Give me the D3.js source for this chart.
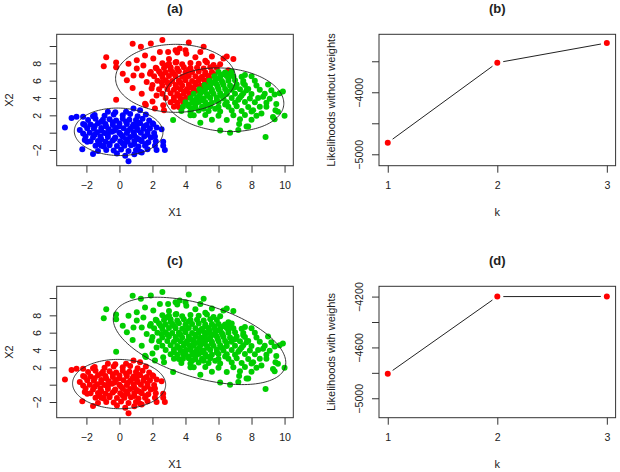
<!DOCTYPE html>
<html>
<head>
<meta charset="utf-8">
<script src="https://cdn.jsdelivr.net/npm/d3@7"></script>
<style>
  body { margin: 0; background: #fff; }
  svg text { font-family: "Liberation Sans", Arial, sans-serif; font-size: 11px; fill: #222; }
  svg .tick text { font-size: 10.6px; }
</style>
</head>
<body>
<div id="chart"></div>
<script>
// small cluster around the origin (blue in (a), red in (c))
const groupA = [
  [-3.3,0.6],[-2.9,1.7],[-2.6,1.85],[-2.2,1.85],[-2.4,0.3],[-2.1,0.9],[-1.95,-1.05],[-2.25,-1.9],[-1.6,-2.45],[-1.1,-1.5],
  [-0.7,2.4],[-0.25,2.35],[0.85,2.8],[1.25,2.6],[0.4,2.4],[2.0,1.1],[2.55,0.4],[2.15,-0.45],[2.65,-1.05],[2.65,-1.5],
  [2.15,-1.5],[2.75,-2.0],[2.25,-2.0],[1.25,-2.2],[1.35,-2.3],[0.35,-2.65],[0.55,-3.3],[-0.15,-2.4],[-2.2,-0.1],[-2.1,-0.85],
  [-1.6,1.9],[1.6,2.1],[-1.3,-2.1],[0.9,-2.5],
  [-1.5,2.05],[-0.9,1.95],[-0.35,2.1],[0.2,2.0],[0.65,2.15],[1.1,1.9],
  [-1.9,1.45],[-1.45,1.6],[-1.0,1.5],[-0.6,1.55],[-0.2,1.4],[0.2,1.6],[0.6,1.5],[1.0,1.45],[1.4,1.6],[1.8,1.4],
  [-2.2,1.0],[-1.75,0.95],[-1.3,1.1],[-0.85,1.0],[-0.4,0.9],[0.0,1.05],[0.45,1.0],[0.85,0.95],[1.25,1.1],[1.65,0.9],[2.05,1.0],
  [-1.95,0.5],[-1.55,0.45],[-1.1,0.55],[-0.65,0.4],[-0.2,0.55],[0.25,0.5],[0.65,0.45],[1.05,0.6],[1.45,0.45],[1.85,0.5],[2.25,0.6],
  [-1.8,0.0],[-1.35,0.05],[-0.9,-0.05],[-0.45,0.1],[0.0,0.0],[0.45,-0.05],[0.85,0.05],[1.3,0.0],[1.7,0.1],[2.1,-0.05],
  [-2.05,-0.45],[-1.6,-0.55],[-1.15,-0.45],[-0.7,-0.5],[-0.25,-0.55],[0.2,-0.45],[0.65,-0.5],[1.05,-0.6],[1.5,-0.45],[1.9,-0.55],
  [-1.75,-1.0],[-1.3,-0.95],[-0.85,-1.05],[-0.4,-0.9],[0.05,-1.0],[0.5,-1.05],[0.9,-0.95],[1.35,-1.0],[1.75,-1.1],[2.2,-1.0],
  [-1.45,-1.5],[-0.95,-1.6],[-0.6,-1.45],[-0.15,-1.55],[0.3,-1.5],[0.7,-1.45],[1.15,-1.6],[1.55,-1.5],
  [-0.8,-2.0],[-0.35,-2.05],[0.1,-1.95],[0.55,-2.1],[1.0,-2.0],[1.7,-1.9],
  [-1.1,1.25],[-0.4,1.2],[0.4,1.25],[1.1,1.2],[-1.5,0.75],[-0.8,0.7],[0.0,0.75],[0.8,0.7],[1.5,0.75],
  [-1.1,0.25],[-0.3,0.25],[0.5,0.2],[1.1,0.3],[-1.5,-0.25],[-0.7,-0.2],[0.1,-0.25],[0.9,-0.3],[1.7,-0.2],
  [-1.1,-0.75],[-0.3,-0.7],[0.4,-0.75],[1.2,-0.8],[-0.6,-1.25],[0.2,-1.25],[0.9,-1.3],[-1.2,-1.3],[1.6,-1.3]
];

// upper-left part of the large cluster (red in (a))
const groupB = [
  [-0.8,8.7],[-0.95,7.65],[-0.2,8.1],[-0.2,7.55],[0.8,10.25],[1.3,9.9],[1.9,10.3],[2.6,10.7],[3.4,9.5],[3.5,9.25],
  [4.0,9.5],[4.2,10.4],[5.1,9.9],[5.6,8.8],[6.5,8.8],[6.9,8.5],[6.6,7.2],[-0.2,3.8],[2.15,2.8],[1.6,3.2],
  [2.65,3.15],[1.55,3.35],[0.2,6.8],[0.45,6.05],[0.8,5.15],[0.85,6.6],[1.55,8.9],[2.05,8.55],[2.45,9.3],[2.95,9.3],
  [3.65,9.7],[4.05,9.1],[1.45,7.75],[1.05,8.35],[0.55,7.95],[1.85,6.8],[1.35,6.6],[1.65,5.85],[1.95,5.1],[2.25,4.3],
  [1.35,4.5],[2.55,5.85],[1.05,7.4],[2.25,7.4],[2.85,7.75],[3.45,8.15],[6.3,8.55],[5.7,7.8],[4.6,8.7],[5.2,8.3],
  [6.1,7.9],[3.0,8.5],[4.9,9.3],[2.0,3.6],[2.7,2.6],
  [2.6,8.0],[3.0,7.95],[3.4,8.1],[3.8,7.9],[4.3,8.05],[4.8,7.95],[5.3,8.1],
  [2.2,7.5],[2.7,7.45],[3.1,7.55],[3.5,7.4],[3.9,7.55],[4.3,7.45],[4.7,7.5],[5.1,7.4],[5.5,7.55],[5.9,7.45],
  [1.9,7.0],[2.4,7.05],[2.8,6.95],[3.2,7.0],[3.6,7.1],[4.0,6.95],[4.4,7.0],[4.8,7.05],[5.2,6.95],[5.6,7.0],
  [2.1,6.5],[2.6,6.45],[3.0,6.55],[3.4,6.5],[3.8,6.45],[4.2,6.55],[4.6,6.5],[5.0,6.45],[5.4,6.55],
  [2.3,6.0],[2.8,6.05],[3.2,5.95],[3.6,6.0],[4.0,6.05],[4.4,5.95],[4.8,6.0],[5.15,6.05],
  [2.0,5.5],[2.6,5.45],[3.0,5.55],[3.4,5.5],[3.8,5.45],[4.2,5.55],[4.6,5.5],[4.9,5.4],
  [2.4,5.0],[2.9,5.05],[3.3,4.95],[3.7,5.0],[4.1,5.05],[4.5,4.95],
  [2.6,4.5],[3.1,4.55],[3.5,4.45],[3.9,4.5],[4.25,4.55],
  [2.8,4.0],[3.3,4.05],[3.7,3.95],[4.05,4.0],
  [3.1,3.5],[3.5,3.45],[3.85,3.55],
  [3.3,3.0],[3.6,2.95],
  [3.9,3.8],[4.3,4.3],[4.6,4.8],[4.95,5.2],[5.2,5.75],[5.45,6.25],[5.75,6.75],[4.0,4.8],[4.3,5.25],[4.6,5.75],
  [4.9,6.25],[5.2,6.75],[3.6,4.25],[3.3,3.75],[4.0,6.3],[3.3,6.8],[3.7,5.75],[2.9,5.8],[2.5,6.8],[3.1,7.25],
  [4.2,7.25],[3.45,5.2]
];

// lower-right part of the large cluster (green in (a))
const groupC = [
  [6.0,7.0],[6.4,6.95],[6.8,7.05],
  [5.75,6.5],[6.1,6.45],[6.5,6.55],[6.9,6.5],[7.4,6.45],
  [5.45,6.0],[5.8,6.05],[6.2,5.95],[6.6,6.0],[7.0,6.05],[7.5,5.95],[8.2,6.0],
  [5.15,5.5],[5.5,5.45],[5.9,5.55],[6.3,5.5],[6.7,5.45],[7.1,5.55],[7.6,5.5],[8.3,5.45],[9.0,5.55],
  [4.85,5.0],[5.2,5.05],[5.6,4.95],[6.0,5.0],[6.4,5.05],[6.8,4.95],[7.3,5.0],[7.8,5.05],[8.5,4.95],
  [4.5,4.5],[4.9,4.55],[5.3,4.45],[5.7,4.5],[6.1,4.55],[6.5,4.45],[7.0,4.5],[7.5,4.55],[8.0,4.45],[8.8,4.5],[9.4,4.4],
  [4.3,4.0],[4.7,4.05],[5.1,3.95],[5.5,4.0],[5.9,4.05],[6.3,3.95],[6.8,4.0],[7.3,4.05],[7.9,3.95],[8.4,4.0],
  [4.0,3.5],[4.4,3.45],[4.8,3.55],[5.2,3.5],[5.6,3.45],[6.0,3.55],[6.5,3.5],[7.0,3.45],[7.6,3.55],[8.2,3.5],[8.9,3.45],
  [3.85,3.0],[4.2,3.05],[4.6,2.95],[5.0,3.0],[5.5,3.05],[6.0,2.95],[6.6,3.0],[7.1,3.05],[7.8,2.95],[8.5,3.0],
  [3.75,2.5],[4.3,2.45],[4.8,2.55],[5.4,2.5],[6.1,2.45],[6.8,2.55],[7.4,2.5],[8.0,2.45],
  [4.5,2.0],[5.2,2.05],[6.0,1.95],[6.9,2.0],[7.6,2.05],[8.3,1.95],
  [5.6,1.5],[6.5,1.45],[7.3,1.55],[8.0,1.5],
  [3.25,1.45],[4.9,1.15],[6.1,0.25],[6.7,0.0],[7.2,0.3],[7.7,0.7],[8.85,-0.5],[9.4,1.55],[9.6,2.4],[9.7,4.55],
  [9.2,4.9],[9.9,4.75],[10.0,1.95],[9.3,1.8],[9.45,2.6],[8.1,2.6],[8.7,4.15],[7.7,4.9],[7.8,0.7],[7.25,1.0],
  [7.6,6.65],[8.0,6.5],[6.7,6.8],[4.3,2.0],[7.5,5.7],[8.9,3.0],[9.1,3.9],[8.6,2.2],[9.5,3.3],
  [4.15,3.25],[4.55,3.75],[4.85,4.25],[5.1,4.75],[5.4,5.25],[5.7,5.75],[6.0,6.25],[6.3,6.75],[4.6,3.25],[5.0,3.75],
  [5.35,4.25],[5.6,4.75],[5.95,5.3],[6.25,5.75],[6.6,6.3],[5.3,3.25],[5.9,3.75],[6.2,4.25],[6.5,4.8],[7.0,5.25],
  [4.4,2.75],[5.1,2.75],[5.8,2.75],[6.4,3.25],[7.2,3.8],[7.4,4.3]
];

// fitted ellipses: centre and [sxx, sxy, syy]
const ellipsesA = [
  { center: [-0.05, 0.1], cov: [7.2, -0.2, 7.5] },
  { center: [3.4, 6.27], cov: [13.2, 0, 15.4] },
  { center: [6.35, 3.8], cov: [13.0, -1.5, 13.5] }
];
const ellipsesC = [
  { center: [-0.02, 0.07], cov: [7.95, -0.2, 8.1] },
  { center: [4.85, 5.05], cov: [27.3, -13.1, 25.4] }
];

const kValues = [1, 2, 3];
const likelihoodNoWeights = [-4813, -3523, -3205];
const likelihoodWeights = [-4808, -4200, -4199];

const scatterXTicks = [-2, 0, 2, 4, 6, 8, 10];
const scatterYTicks = [-2, 0, 2, 4, 6, 8, 10];
const scatterYLabels = [-2, 2, 4, 6, 8];
const bYTicks = [-5000, -4500, -4000, -3500];
const bYLabels = [-5000, -4000];
const dYTicks = [-5000, -4800, -4600, -4400, -4200];
const dYLabels = [-5000, -4600, -4200];

const RED = '#ff0000';
const GREEN = '#00cd00';
const BLUE = '#0000ff';

const width = 620;
const height = 472;
const panelW = 236.6;
const panelH = 131.4;

const svg = d3.select('#chart').append('svg')
  .attr('width', width)
  .attr('height', height)
  .attr('viewBox', `0 0 ${width} ${height}`);

const minus = v => String(v).replace('-', '\u2212');

function makePanel(left, top, title, xLabel, yLabel) {
  const g = svg.append('g').attr('transform', `translate(${left},${top})`);
  g.append('text')
    .attr('x', panelW / 2)
    .attr('y', -21)
    .attr('text-anchor', 'middle')
    .style('font-weight', 'bold')
    .style('font-size', '13px')
    .text(title);
  g.append('text')
    .attr('x', panelW / 2)
    .attr('y', panelH + 50.3)
    .attr('text-anchor', 'middle')
    .text(xLabel);
  g.append('text')
    .attr('transform', `translate(-44,${panelH / 2}) rotate(-90)`)
    .attr('text-anchor', 'middle')
    .text(yLabel);
  return g;
}

function drawAxes(g, x, y, xTicks, yTicks, yLabels) {
  const xa = g.append('g')
    .attr('transform', `translate(0,${panelH})`)
    .style('color', '#333')
    .call(d3.axisBottom(x).tickValues(xTicks).tickSize(7).tickFormat(minus));
  xa.select('.domain').remove();
  xa.selectAll('text').attr('y', 16).attr('dy', '0.71em');

  const ya = g.append('g')
    .style('color', '#333')
    .call(d3.axisLeft(y).tickValues(yTicks).tickSize(7)
      .tickFormat(d => (yLabels.includes(d) ? minus(d) : '')));
  ya.select('.domain').remove();
  ya.selectAll('text')
    .attr('transform', 'rotate(-90)')
    .attr('x', 0)
    .attr('y', -16)
    .attr('dy', 0)
    .attr('text-anchor', 'middle');

  g.append('rect')
    .attr('width', panelW)
    .attr('height', panelH)
    .attr('fill', 'none')
    .attr('stroke', '#333')
    .attr('stroke-width', 1);
}

function ellipsePath(e, x, y) {
  const l11 = Math.sqrt(e.cov[0]);
  const l21 = e.cov[1] / l11;
  const l22 = Math.sqrt(e.cov[2] - l21 * l21);
  const pts = d3.range(0, 2 * Math.PI, Math.PI / 80).map(t => [
    e.center[0] + l11 * Math.cos(t),
    e.center[1] + l21 * Math.cos(t) + l22 * Math.sin(t)
  ]);
  return d3.line().x(d => x(d[0])).y(d => y(d[1])).curve(d3.curveLinearClosed)(pts);
}

function drawScatter(g, groups, ellipses) {
  const x = d3.scaleLinear().domain([-3.8, 10.53]).range([0, panelW]);
  const y = d3.scaleLinear().domain([-3.81, 11.35]).range([panelH, 0]);
  groups.forEach(grp => {
    g.append('g').selectAll('circle')
      .data(grp.points)
      .join('circle')
      .attr('cx', d => x(d[0]))
      .attr('cy', d => y(d[1]))
      .attr('r', 3)
      .attr('fill', grp.color);
  });
  g.selectAll('.ellipse')
    .data(ellipses)
    .join('path')
    .attr('class', 'ellipse')
    .attr('d', e => ellipsePath(e, x, y))
    .attr('fill', 'none')
    .attr('stroke', '#222')
    .attr('stroke-width', 0.9);
  drawAxes(g, x, y, scatterXTicks, scatterYTicks, scatterYLabels);
}

function drawLikelihood(g, values, yDomain, yTicks, yLabels) {
  const x = d3.scaleLinear().domain([0.92, 3.08]).range([0, panelW]);
  const y = d3.scaleLinear().domain(yDomain).range([panelH, 0]);
  const pts = kValues.map((k, i) => [x(k), y(values[i])]);
  const gap = 6;
  const segs = d3.pairs(pts).map(([p, q]) => {
    const dx = q[0] - p[0];
    const dy = q[1] - p[1];
    const len = Math.hypot(dx, dy);
    const ux = dx / len;
    const uy = dy / len;
    return [p[0] + ux * gap, p[1] + uy * gap, q[0] - ux * gap, q[1] - uy * gap];
  });
  g.selectAll('.seg')
    .data(segs)
    .join('line')
    .attr('class', 'seg')
    .attr('x1', d => d[0]).attr('y1', d => d[1])
    .attr('x2', d => d[2]).attr('y2', d => d[3])
    .attr('stroke', '#222')
    .attr('stroke-width', 1);
  g.selectAll('.pt')
    .data(pts)
    .join('circle')
    .attr('class', 'pt')
    .attr('cx', d => d[0])
    .attr('cy', d => d[1])
    .attr('r', 3)
    .attr('fill', RED);
  drawAxes(g, x, y, kValues, yTicks, yLabels);
}

const ga = makePanel(56.7, 34.3, '(a)', 'X1', 'X2');
drawScatter(ga, [
  { points: groupA, color: BLUE },
  { points: groupB, color: RED },
  { points: groupC, color: GREEN }
], ellipsesA);

const gb = makePanel(379, 34.3, '(b)', 'k', 'Likelihoods without weights');
drawLikelihood(gb, likelihoodNoWeights, [-5184, -3065], bYTicks, bYLabels);

const gc = makePanel(56.7, 286.3, '(c)', 'X1', 'X2');
drawScatter(gc, [
  { points: groupA, color: RED },
  { points: groupB.concat(groupC), color: GREEN }
], ellipsesC);

const gd = makePanel(379, 286.3, '(d)', 'k', 'Likelihoods with weights');
drawLikelihood(gd, likelihoodWeights, [-5153, -4119], dYTicks, dYLabels);
</script>
</body>
</html>
